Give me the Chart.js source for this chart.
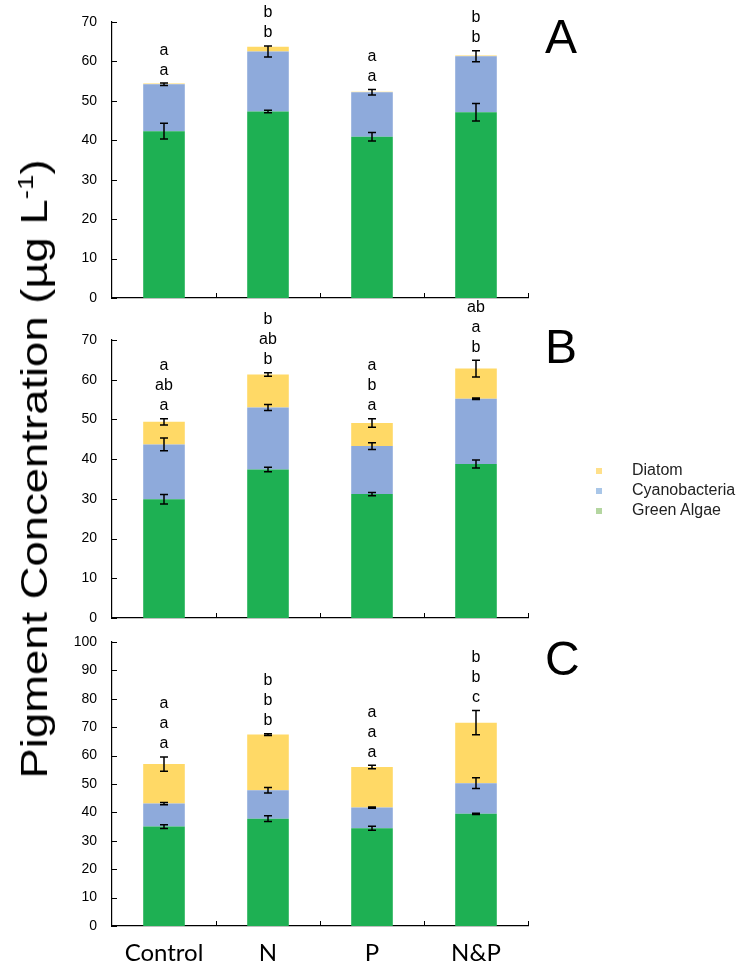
<!DOCTYPE html>
<html>
<head>
<meta charset="utf-8">
<script src="https://cdn.jsdelivr.net/npm/chart.js@4.4.1/dist/chart.umd.min.js"></script>
<style>
  body { margin: 0; background: #fff; }
  #wrap { position: relative; width: 747px; height: 968px; overflow: hidden; font-family: "Liberation Sans", Arial, sans-serif; }
  canvas { position: absolute; left: 0; }
  #ytitle { position: absolute; left: 35px; top: 469px; transform: translate(-50%, -50%) rotate(-90deg) scaleX(1.262); white-space: nowrap; font-size: 36px; color: #000; }
  #ytitle sup { font-size: 22px; vertical-align: 14px; line-height: 0; }
  .leg { position: absolute; left: 596px; font-size: 16px; color: #222; }
  .leg i { position: absolute; left: 0; width: 6px; height: 6px; }
  .leg span { position: absolute; left: 36px; top: -10px; white-space: nowrap; }
</style>
</head>
<body>
<div id="wrap">
  <canvas id="chartA" width="747" height="310" style="top:0px"></canvas>
  <canvas id="chartB" width="747" height="330" style="top:300px"></canvas>
  <canvas id="chartC" width="747" height="338" style="top:630px"></canvas>
  <div id="ytitle">Pigment Concentration (µg L<sup>-1</sup>)</div>
  <div class="leg" style="top:471px"><i style="background:#ffe08a;top:-3px"></i><span>Diatom</span></div>
  <div class="leg" style="top:491px"><i style="background:#a9c6e8;top:-3px"></i><span>Cyanobacteria</span></div>
  <div class="leg" style="top:511px"><i style="background:#b4d6a0;top:-3px"></i><span>Green Algae</span></div>
</div>
<script>
const categories = ['Control', 'N', 'P', 'N&P'];

// panel A
const greenA = [42.3, 47.3, 40.9, 47.1];
const cyanoA = [11.9, 15.2, 11.3, 14.2];
const diatomA = [0.2, 1.2, 0.1, 0.2];
const greenErrA = [2.0, 0.3, 1.05, 2.2];
const cyanoErrA = [0.3, 1.4, 0.7, 1.4];
const diatomErrA = [0, 0, 0, 0];
const lettersA = [['a', 'a'], ['b', 'b'], ['a', 'a'], ['b', 'b']];

// panel B
const greenB = [29.9, 37.4, 31.2, 38.8];
const cyanoB = [13.8, 15.6, 12.1, 16.4];
const diatomB = [5.7, 8.3, 5.8, 7.6];
const greenErrB = [1.2, 0.55, 0.4, 1.0];
const cyanoErrB = [1.6, 0.75, 0.85, 0.2];
const diatomErrB = [0.8, 0.45, 1.1, 2.1];
const lettersB = [['a', 'ab', 'a'], ['b', 'ab', 'b'], ['a', 'b', 'a'], ['ab', 'a', 'b']];

// panel C
const greenC = [35.0, 37.8, 34.4, 39.5];
const cyanoC = [8.1, 10.0, 7.3, 10.8];
const diatomC = [13.9, 19.6, 14.3, 21.3];
const greenErrC = [0.65, 1.0, 0.7, 0.2];
const cyanoErrC = [0.4, 1.0, 0.2, 1.9];
const diatomErrC = [2.5, 0.3, 0.6, 4.3];
const lettersC = [['a', 'a', 'a'], ['b', 'b', 'b'], ['a', 'a', 'a'], ['b', 'b', 'c']];

const GREEN = '#1eb053';
const CYANO = '#8eaadb';
const DIATOM = '#ffd966';
const FONT = '"Liberation Sans", Arial, sans-serif';

// error bars, letters, inward ticks and panel letter
const overlay = {
	id: 'overlay',
	afterDatasetsDraw(chart, args, opts) {
		const { ctx, chartArea: area, scales: { x, y } } = chart;
		const sets = chart.data.datasets;
		ctx.save();
		ctx.strokeStyle = '#000';
		ctx.fillStyle = '#000';
		ctx.lineWidth = 1.5;

		categories.forEach((c, i) => {
			const cx = x.getPixelForValue(i);
			let cum = 0;
			let highest = 0;
			sets.forEach((ds, di) => {
				cum += ds.data[i];
				const e = opts.errors[di][i];
				highest = Math.max(highest, cum + e);
				if (e <= 0) return;
				const y1 = y.getPixelForValue(cum + e);
				const y2 = y.getPixelForValue(cum - e);
				ctx.beginPath();
				ctx.moveTo(cx, y1); ctx.lineTo(cx, y2);
				ctx.moveTo(cx - 4, y1); ctx.lineTo(cx + 4, y1);
				ctx.moveTo(cx - 4, y2); ctx.lineTo(cx + 4, y2);
				ctx.stroke();
			});
			// significance letters, listed top to bottom
			const letters = opts.letters[i];
			const base = y.getPixelForValue(highest) - 13;
			ctx.font = '16px ' + FONT;
			ctx.textAlign = 'center';
			ctx.textBaseline = 'middle';
			letters.forEach((t, j) => {
				ctx.fillText(t, cx, base - (letters.length - 1 - j) * 20);
			});
		});

		// inward tick marks
		ctx.lineWidth = 1;
		ctx.beginPath();
		y.ticks.forEach(t => {
			const py = Math.round(y.getPixelForValue(t.value)) + 0.5;
			ctx.moveTo(area.left, py); ctx.lineTo(area.left + 5, py);
		});
		for (let k = 1; k <= categories.length; k++) {
			const px = Math.round(area.left + k * area.width / categories.length) + 0.5;
			ctx.moveTo(px, area.bottom); ctx.lineTo(px, area.bottom - 5);
		}
		ctx.stroke();

		ctx.font = '48px ' + FONT;
		ctx.textAlign = 'left';
		ctx.textBaseline = 'alphabetic';
		ctx.fillText(opts.panel, 545, opts.panelY);
		ctx.restore();
	}
};

function buildPanel(id, green, cyano, diatom, errs, letters, yMax, panel, panelY, padTop, xHeight, showLabels) {
	return new Chart(document.getElementById(id), {
		type: 'bar',
		data: {
			labels: categories,
			datasets: [
				{ label: 'Green Algae', data: green, backgroundColor: GREEN },
				{ label: 'Cyanobacteria', data: cyano, backgroundColor: CYANO },
				{ label: 'Diatom', data: diatom, backgroundColor: DIATOM },
			],
		},
		options: {
			responsive: false,
			animation: false,
			barPercentage: 0.4,
			categoryPercentage: 1.0,
			layout: { padding: { top: padTop, right: 219, left: 0, bottom: 0 } },
			plugins: {
				legend: { display: false },
				tooltip: { enabled: false },
				overlay: { errors: errs, letters: letters, panel: panel, panelY: panelY },
			},
			scales: {
				x: {
					stacked: true,
					grid: { display: false, drawTicks: false },
					border: { display: true, color: '#000', width: 1.2 },
					ticks: { display: showLabels, color: '#000', padding: 13, font: { family: 'Lato', size: 24 } },
					afterFit: s => { s.height = xHeight; s.paddingLeft = 0; s.paddingRight = 0; },
				},
				y: {
					stacked: true,
					min: 0,
					max: yMax,
					grid: { display: false, drawTicks: false },
					border: { display: true, color: '#000', width: 1.2 },
					ticks: { stepSize: 10, color: '#000', padding: 15, font: { family: 'Liberation Sans', size: 14 } },
					afterFit: s => { s.width = 112; s.paddingTop = 0; s.paddingBottom = 0; },
				},
			},
		},
		plugins: [overlay],
	});
}

buildPanel('chartA', greenA, cyanoA, diatomA, [greenErrA, cyanoErrA, diatomErrA], lettersA, 70, 'A', 53, 22, 12, false);
buildPanel('chartB', greenB, cyanoB, diatomB, [greenErrB, cyanoErrB, diatomErrB], lettersB, 70, 'B', 63, 40, 12, false);
buildPanel('chartC', greenC, cyanoC, diatomC, [greenErrC, cyanoErrC, diatomErrC], lettersC, 100, 'C', 45, 12, 42, true);
</script>
</body>
</html>
